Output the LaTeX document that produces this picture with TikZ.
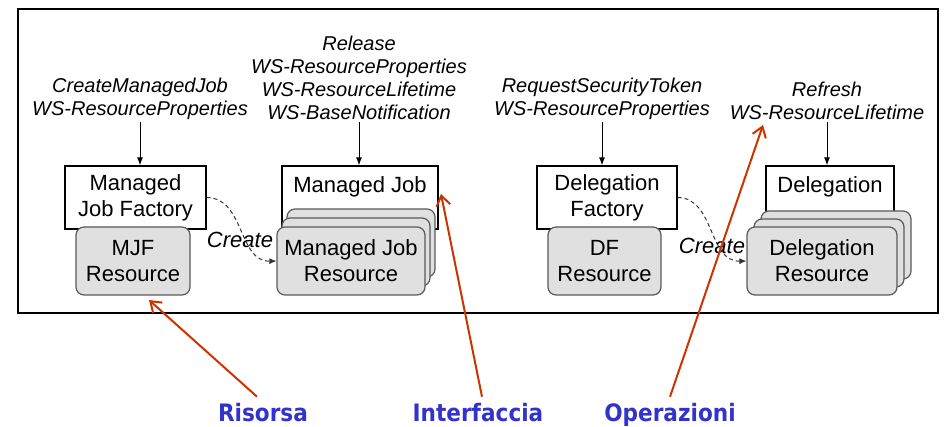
\documentclass[tikz,border=0pt]{standalone}
\usepackage{fontspec}
\setmainfont{Liberation Sans}
\newfontfamily\tagfont[FakeStretch=0.9]{DejaVu Sans}
\usepackage{xcolor}
\definecolor{tagblue}{HTML}{3333CC}
\definecolor{myred}{HTML}{CC3300}
\definecolor{resgray}{HTML}{E0E0E0}
\usetikzlibrary{arrows.meta,positioning}

\begin{document}
\begin{tikzpicture}[
    x=0.5pt, y=-0.5pt,
    svc/.style={draw=black, fill=white, line width=0.6pt, minimum width=#1, minimum height=31.5pt, inner sep=0pt, align=center, font=\fontsize{11}{13}\selectfont},
    res/.style={draw=black!65, fill=resgray, rounded corners=4pt, line width=0.6pt, minimum width=#1, minimum height=34pt, inner sep=0pt, align=center, font=\fontsize{11}{13}\selectfont},
    ops/.style={font=\fontsize{10}{11.5}\selectfont\itshape, align=center, inner sep=1pt, anchor=south},
    call/.style={-{Latex[length=4pt,width=3pt]}, line width=0.5pt},
    create/.style={-{Latex[length=3.5pt,width=3pt]}, line width=0.5pt, dash pattern=on 2pt off 1.5pt, black!80},
    createlbl/.style={font=\fontsize{11}{13}\selectfont\itshape},
    tag/.style={font=\tagfont\bfseries\fontsize{12}{14}\selectfont, text=tagblue, anchor=base},
    pointer/.style={-{Straight Barb[length=5pt,width=7pt]}, myred, line width=1pt},
]
\useasboundingbox (0,0) rectangle (948,427);

% cornice
\draw[line width=0.8pt] (18,9) rectangle (938,313);

% Managed Job Factory e la sua risorsa
\node[svc=70.5pt] (mjf) at (135.5,197.5) {Managed\\Job Factory};
\node[res=57pt] (mjfres) at (133,261) {MJF\\Resource};

% Managed Job (servizio + pila di risorse)
\node[svc=78pt] (mj) at (360,197.5) {};
\node[font=\fontsize{11}{13}\selectfont, below=2pt of mj.north] (mjtxt) {Managed Job};
\node[res=74pt] (mjr3) at (361,243) {};
\node[res=74pt] (mjr2) at (356,252) {};
\node[res=74pt] (mjr) at (351,261) {Managed Job\\Resource};

% Delegation Factory e la sua risorsa
\node[svc=70pt] (dlf) at (607,197.5) {Delegation\\Factory};
\node[res=56.5pt] (dlfres) at (604.5,261) {DF\\Resource};

% Delegation (servizio + pila di risorse)
\node[svc=64pt] (dl) at (830,197.5) {};
\node[font=\fontsize{11}{13}\selectfont, below=2pt of dl.north] (dltxt) {Delegation};
\node[res=75pt] (dlr3) at (836,245) {};
\node[res=75pt] (dlr2) at (829,253) {};
\node[res=75pt] (dlr) at (822,261) {Delegation\\Resource};

% operazioni
\node[ops] (mjfops) at (140,122) {CreateManagedJob\\WS-ResourceProperties};
\node[ops] (mjops) at (359,122) {Release\\WS-ResourceProperties\\WS-ResourceLifetime\\WS-BaseNotification};
\node[ops] (dlfops) at (602,122) {RequestSecurityToken\\WS-ResourceProperties};
\node[ops] (dlops) at (827,122) {Refresh\\WS-ResourceLifetime};

\draw[call] (mjfops) -- (mjfops |- mjf.north);
\draw[call] (mjops) -- (mjops |- mj.north);
\draw[call] (dlfops) -- (dlfops |- dlf.north);
\draw[call] (dlops) -- (dlops |- dl.north);

% Create
\draw[create] (mjf.east) .. controls (245,198) and (238,262) .. (mjr.west);
\node[createlbl] (mjcreate) at (240,240) {Create};
\draw[create] (dlf.east) .. controls (715,198) and (708,262) .. (dlr.west);
\node[createlbl] (dlcreate) at (712,246) {Create};

% etichette in basso
\node[tag] (risorsa) at (263,422) {Risorsa};
\node[tag] (interf) at (478,422) {Interfaccia};
\node[tag] (operaz) at (670,422) {Operazioni};

\coordinate (tipres) at (149,300);
\coordinate (tipint) at (441,194);
\coordinate (tipops) at (763,125);

\draw[pointer] ([xshift=-3pt]risorsa.north) -- (tipres);
\draw[pointer] ([xshift=2pt]interf.north) -- (tipint);
\draw[pointer] (operaz.north) -- (tipops);

\end{tikzpicture}
\end{document}
